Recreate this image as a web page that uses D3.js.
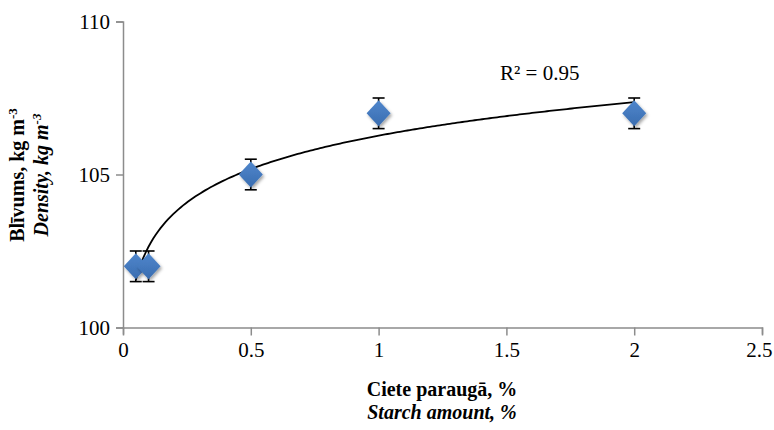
<!DOCTYPE html>
<html>
<head>
<meta charset="utf-8">
<script src="https://cdn.jsdelivr.net/npm/d3@7"></script>
</head>
<body style="margin:0;background:#fff">
<svg id="chart" width="774" height="430" font-family="Liberation Serif"></svg>
<script>
// dati
const starch = [0.05, 0.1, 0.5, 1, 2];
const density = [102, 102, 105, 107, 107];
const errors = [0.5, 0.5, 0.5, 0.5, 0.5];
const xTicks = [0, 0.5, 1, 1.5, 2, 2.5];
const yTicks = [100, 105, 110];

const serif = 'Liberation Serif';
const svg = d3.select('#chart');

const x = d3.scaleLinear().domain([0, 2.5]).range([123, 762]);
const y = d3.scaleLinear().domain([100, 110]).range([327.5, 21.5]);

// ēna un gradients marķieriem
const defs = svg.append('defs');
const grad = defs.append('linearGradient').attr('id', 'mk')
    .attr('x1', 0).attr('y1', 0).attr('x2', 0).attr('y2', 1);
grad.append('stop').attr('offset', '0%').attr('stop-color', '#4f86cc');
grad.append('stop').attr('offset', '100%').attr('stop-color', '#3a6db0');
const sh = defs.append('filter').attr('id', 'sh')
    .attr('x', '-50%').attr('y', '-50%').attr('width', '200%').attr('height', '200%');
sh.append('feDropShadow').attr('dx', 1.5).attr('dy', 2).attr('stdDeviation', 1.5)
    .attr('flood-color', '#000').attr('flood-opacity', 0.35);

// asis
const yAxis = svg.append('g')
    .attr('transform', `translate(${x(0)},0)`)
    .call(d3.axisLeft(y).tickValues(yTicks).tickSize(7).tickPadding(6).tickFormat(d3.format('d')));
const xAxis = svg.append('g')
    .attr('transform', `translate(0,${y(100)})`)
    .call(d3.axisBottom(x).tickValues(xTicks).tickSize(7).tickPadding(8).tickFormat(d => d));

[xAxis, yAxis].forEach(g => {
    g.attr('font-family', serif);
    g.select('.domain').attr('stroke', '#8c8c8c').attr('stroke-width', 1.5);
    g.selectAll('.tick line').attr('stroke', '#8c8c8c').attr('stroke-width', 1.5);
    g.selectAll('.tick text').attr('font-size', 21).attr('fill', '#000');
});
xAxis.selectAll('.tick line').attr('y2', 8);
// pēdējā x etiķete pie malas
xAxis.selectAll('.tick text').filter(d => d === 2.5).attr('text-anchor', 'end').attr('dx', 10);

// logaritmiskā tendences līnija (mazāko kvadrātu)
const lx = starch.map(Math.log);
const mx = d3.mean(lx), my = d3.mean(density);
const a = d3.sum(lx.map((v, i) => (v - mx) * (density[i] - my))) /
          d3.sum(lx.map(v => (v - mx) ** 2));
const b = my - a * mx;
const trend = d3.range(0, 201).map(i => {
    const xv = starch[0] + (d3.max(starch) - starch[0]) * i / 200;
    return [xv, a * Math.log(xv) + b];
});

svg.append('path')
    .datum(trend)
    .attr('fill', 'none')
    .attr('stroke', '#000')
    .attr('stroke-width', 1.8)
    .attr('d', d3.line().x(d => x(d[0])).y(d => y(d[1])));

const pts = starch.map((s, i) => ({ s, d: density[i], e: errors[i] }));

// kļūdu joslas
const eb = svg.selectAll('.eb')
    .data(pts)
    .enter()
    .append('g')
    .attr('class', 'eb')
    .attr('stroke', '#000')
    .attr('stroke-width', 1.6);
eb.append('line')
    .attr('x1', d => x(d.s)).attr('x2', d => x(d.s))
    .attr('y1', d => y(d.d - d.e)).attr('y2', d => y(d.d + d.e));
eb.append('line')
    .attr('x1', d => x(d.s) - 6).attr('x2', d => x(d.s) + 6)
    .attr('y1', d => y(d.d + d.e)).attr('y2', d => y(d.d + d.e));
eb.append('line')
    .attr('x1', d => x(d.s) - 6).attr('x2', d => x(d.s) + 6)
    .attr('y1', d => y(d.d - d.e)).attr('y2', d => y(d.d - d.e));

// marķieri
svg.selectAll('.mk')
    .data(pts)
    .enter()
    .append('path')
    .attr('class', 'mk')
    .attr('transform', d => `translate(${x(d.s)},${y(d.d)})`)
    .attr('d', 'M0,-13 L12,0 L0,13 L-12,0 Z')
    .attr('fill', 'url(#mk)')
    .attr('filter', 'url(#sh)');

// R² uzraksts
svg.append('text')
    .attr('x', 500).attr('y', 80)
    .attr('font-size', 21)
    .text('R² = 0.95');

// asu nosaukumi
const yt = svg.append('text')
    .attr('transform', 'translate(24,175) rotate(-90)')
    .attr('text-anchor', 'middle')
    .attr('font-size', 20)
    .attr('font-weight', 'bold');
yt.append('tspan').text('Blīvums, kg m');
yt.append('tspan').attr('dy', -7).attr('font-size', 13).text('-3');

const yt2 = svg.append('text')
    .attr('transform', 'translate(48,175) rotate(-90)')
    .attr('text-anchor', 'middle')
    .attr('font-size', 20)
    .attr('font-weight', 'bold')
    .attr('font-style', 'italic');
yt2.append('tspan').text('Density, kg m');
yt2.append('tspan').attr('dy', -7).attr('font-size', 13).text('-3');

svg.append('text')
    .attr('x', 442).attr('y', 396)
    .attr('text-anchor', 'middle')
    .attr('font-size', 20)
    .attr('font-weight', 'bold')
    .text('Ciete paraugā, %');
svg.append('text')
    .attr('x', 442).attr('y', 419)
    .attr('text-anchor', 'middle')
    .attr('font-size', 20)
    .attr('font-weight', 'bold')
    .attr('font-style', 'italic')
    .text('Starch amount, %');

// fonts visiem tekstiem tieši
svg.selectAll('text').attr('font-family', serif).style('font-family', serif);
</script>
</body>
</html>
